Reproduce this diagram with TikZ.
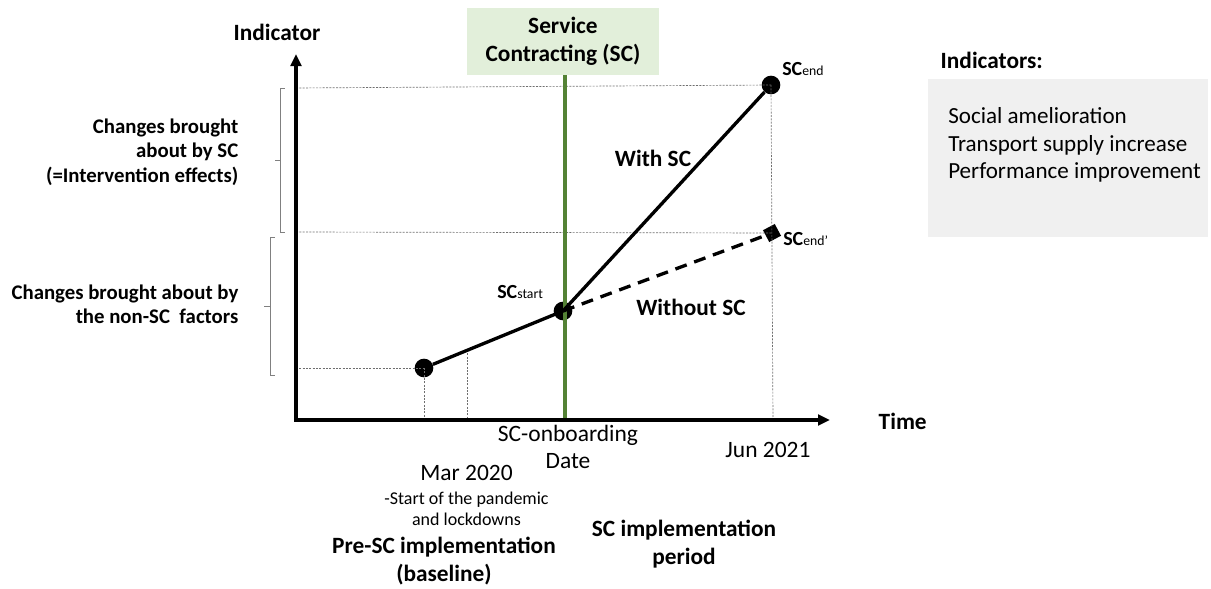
\documentclass[tikz,border=0pt]{standalone}
\usepackage{fontspec}
\setmainfont{Carlito}
\usetikzlibrary{arrows.meta}
\definecolor{scgreen}{RGB}{84,130,53}
\definecolor{scgreenfill}{RGB}{226,239,218}
\definecolor{boxgray}{RGB}{240,240,240}
\definecolor{guide}{RGB}{110,110,110}
\newcommand{\scsub}[1]{{\fontsize{15pt}{15pt}\selectfont\bfseries SC}{\fontsize{10.3pt}{10.3pt}\selectfont\raisebox{-0.5pt}{#1}}}
\begin{document}
\begin{tikzpicture}[x=0.75pt,y=-0.75pt,
  axisline/.style={line width=2.4pt,-{Triangle[length=9pt,width=8pt]}},
  trend/.style={line width=2.5pt},
  guideline/.style={guide,line width=0.5pt,dash pattern=on 1.5pt off 1pt},
  bracket/.style={gray,line width=0.6pt},
  dot/.style={circle,fill=black,inner sep=0pt,minimum size=14pt},
  lbl/.style={font=\fontsize{15.6pt}{18.3pt}\selectfont\bfseries,align=right},
  curve/.style={font=\fontsize{17.5pt}{21pt}\selectfont\bfseries},
  reg/.style={font=\fontsize{17.6pt}{20.5pt}\selectfont,align=center},
  boldc/.style={font=\fontsize{17.5pt}{21pt}\selectfont\bfseries,align=center}]
\useasboundingbox (0,0) rectangle (1211,589);

% axes
\coordinate (o) at (296,420);
\coordinate (ytop) at (296,54);
\coordinate (xend) at (830,420);

% key points
\node[dot] (p0) at (424,368) {};
\node[dot] (pstart) at (563,311) {};
\node[dot] (pend) at (771,85) {};
\node[fill=black,inner sep=0pt,minimum size=10pt,rotate=28] (pendp) at (772,233) {};

% guide lines
\coordinate (gy1) at (296,88);
\coordinate (gy2) at (296,232);
\coordinate (gy3) at (296,368);
\coordinate (gx1) at (424,420);
\coordinate (gm1) at (467,350);
\coordinate (gm2) at (467,420);
\coordinate (gj) at (773,420);
\draw[guideline] (gy1) -- (pend.center);
\draw[guideline] (gy2) -- (pendp.center);
\draw[guideline] (gy3) -- (p0.center);
\draw[guideline] (p0.center) -- (gx1);
\draw[guideline] (gm1) -- (gm2);
\draw[guideline] (pend.center) -- (gj);

% service contracting marker
\node[fill=scgreenfill,minimum width=144pt,minimum height=50pt,inner sep=0pt,
      font=\fontsize{17.5pt}{21pt}\selectfont\bfseries,align=center] (scbox) at (563,41.5)
      {Service\\Contracting (SC)};
\coordinate (gbot) at (565,420);
\draw[scgreen,line width=2.3pt] (scbox.south -| gbot) -- (gbot);

% trends
\draw[trend] (p0) -- (pstart.center);
\draw[trend] (pstart.center) -- (pend);
\draw[trend,dash pattern=on 9pt off 6pt] (pstart.center) -- (pendp);

\draw[axisline] (o) -- (ytop);
\draw[axisline] ([xshift=-1.2pt]o) -- (xend);

% brackets on the indicator axis
\coordinate (b1t) at (280,88);
\coordinate (b1b) at (280,232);
\coordinate (b2t) at (270,237);
\coordinate (b2b) at (270,375);
\draw[bracket] ([xshift=3.5pt]b1t) -- (b1t) -- (b1b) -- ([xshift=3.5pt]b1b);
\draw[bracket] (280,160) -- (275,160);
\draw[bracket] ([xshift=3.5pt]b2t) -- (b2t) -- (b2b) -- ([xshift=3.5pt]b2b);
\draw[bracket] (270,306) -- (264,306);

% labels
\node[boldc] (ylab) at (277,32) {Indicator};
\node[boldc,anchor=west] (xlab) at (874,421) {Time};
\node[lbl,anchor=east] (eff) at (243,152) {Changes brought\\about by SC\\(=Intervention effects)};
\node[lbl,anchor=east] (nonsc) at (243,304) {Changes brought about by\\the non-SC\ \ factors};
\node[anchor=west,inner sep=0pt] (lend) at (782,69) {\scsub{end}};
\node[anchor=west,inner sep=0pt] (lendp) at (783,239) {\scsub{end'}};
\node[anchor=west,inner sep=0pt] (lstart) at (497,292) {\scsub{start}};
\node[curve] (with) at (653,158) {With SC};
\node[curve] (without) at (691,307) {Without SC};

\node[reg] (onb) at (568,447) {SC-onboarding\\Date};
\node[reg] (jun) at (768,450) {Jun 2021};
\node[reg] (mar) at (466.5,473) {Mar 2020};
\node[font=\fontsize{13.5pt}{15.8pt}\selectfont,align=center] (pand) at (466.5,508.5) {-Start of the pandemic\\and lockdowns};
\node[boldc] (pre) at (444,561.5) {Pre-SC implementation\\(baseline)};
\node[boldc] (impl) at (684,544) {SC implementation\\period};

% indicator list
\node[boldc,anchor=west] (indh) at (936,60) {Indicators:};
\node[fill=boxgray,minimum width=210pt,minimum height=118.5pt,inner sep=0pt,anchor=north west] (indbox) at (928,79) {};
\node[font=\fontsize{17.3pt}{20.6pt}\selectfont,align=left,anchor=west,inner sep=0pt] (indl) at (948,145)
  {Social amelioration\\Transport supply increase\\Performance improvement};
\end{tikzpicture}
\end{document}
